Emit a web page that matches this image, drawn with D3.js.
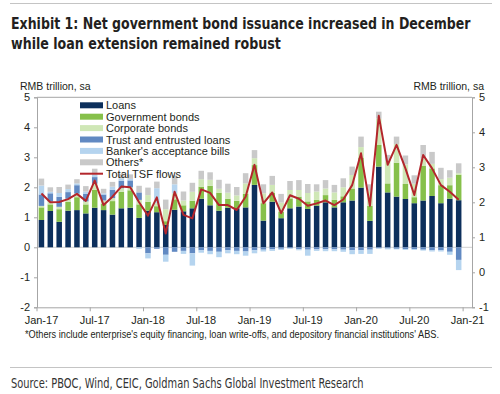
<!DOCTYPE html>
<html>
<head>
<meta charset="utf-8">
<script src="https://cdn.jsdelivr.net/npm/d3@7"></script>
<style>
  body { margin: 0; background: #fff; }
  svg { display: block; font-family: "Liberation Sans", Arial, sans-serif; }
</style>
</head>
<body>
<script>
// months on the x axis (the last one, Jan-21, only carries a label)
const MONTHS = [
  'Jan-17','Feb-17','Mar-17','Apr-17','May-17','Jun-17','Jul-17','Aug-17','Sep-17','Oct-17','Nov-17','Dec-17',
  'Jan-18','Feb-18','Mar-18','Apr-18','May-18','Jun-18','Jul-18','Aug-18','Sep-18','Oct-18','Nov-18','Dec-18',
  'Jan-19','Feb-19','Mar-19','Apr-19','May-19','Jun-19','Jul-19','Aug-19','Sep-19','Oct-19','Nov-19','Dec-19',
  'Jan-20','Feb-20','Mar-20','Apr-20','May-20','Jun-20','Jul-20','Aug-20','Sep-20','Oct-20','Nov-20','Dec-20',
  'Jan-21'
]
const TICK_LABELS = ['Jan-17','Jul-17','Jan-18','Jul-18','Jan-19','Jul-19','Jan-20','Jul-20','Jan-21']
const LEFT_TICKS = [-2, -1, 0, 1, 2, 3, 4, 5]
const RIGHT_TICKS = [-1, 0, 1, 2, 3, 4, 5]

// series, RMB trillion, sa
const LOANS = [
  0.91,1.21,0.85,1.22,1.24,1.13,1.32,1.24,1.09,1.30,1.32,0.98,
  1.22,1.17,0.75,1.25,1.20,1.30,1.62,1.40,1.22,1.32,1.30,1.33,
  2.08,0.89,1.52,0.97,1.30,1.36,1.28,1.39,1.50,1.33,1.50,1.56,
  1.99,0.88,2.69,1.83,1.69,1.61,1.47,1.56,1.71,1.47,1.62,1.57
]
const GOV_BONDS = [
  0.42,0.22,0.42,0.30,0.43,0.30,0.60,0.22,0.45,0.55,0.58,0.45,
  0.30,0.20,0.12,0.35,0.20,0.25,0.40,0.65,0.60,0.30,0.25,0.45,
  0.66,0.58,0.30,0.22,0.33,0.33,0.25,0.19,0.24,0.25,0.20,0.40,
  1.00,0.50,0.72,0.30,1.13,0.50,0.20,1.15,0.92,0.60,0.45,0.85
]
const CORP_BONDS = [
  0.05,0.10,0.08,0.10,0.12,0.10,0.20,0.10,0.10,0.12,0.10,0.15,
  0.22,0.10,0.40,0.20,0.16,0.30,0.25,0.20,0.13,0.20,0.18,0.35,
  0.23,0.33,0.26,0.30,0.28,0.22,0.28,0.28,0.22,0.25,0.30,0.45,
  0.35,0.50,0.88,0.75,0.62,0.65,0.45,0.25,0.15,0.20,0.25,0.05
]
const TRUST = [
  0.38,0.27,0.33,0.22,0.28,0.25,0.22,0.20,0.28,0.25,0.23,0.25,
  -0.20,-0.05,-0.25,-0.15,-0.12,-0.20,-0.10,-0.12,-0.15,-0.10,-0.12,-0.14,
  -0.10,-0.08,-0.07,-0.05,-0.03,-0.06,-0.08,-0.07,-0.07,-0.07,-0.08,-0.10,
  -0.10,-0.08,-0.03,-0.04,-0.05,-0.06,-0.06,-0.08,-0.10,-0.10,-0.15,-0.42
]
const BANKERS = [
  0.30,0.05,0.13,0.10,0.06,0.08,0.08,0.04,0.10,0.08,0.05,-0.05,
  -0.17,0.50,-0.23,0.30,-0.10,-0.41,-0.08,-0.11,-0.18,-0.10,-0.11,-0.14,
  -0.10,-0.06,-0.05,-0.04,-0.02,-0.04,-0.20,-0.05,-0.06,-0.06,-0.07,-0.13,
  -0.12,-0.14,-0.02,-0.03,-0.02,-0.03,-0.03,-0.03,-0.04,-0.04,-0.10,-0.34
]
const OTHERS = [
  0.23,0.15,0.20,0.15,0.14,0.18,0.20,0.15,0.16,0.15,0.15,0.22,
  0.25,0.22,0.32,0.30,0.30,0.30,0.28,0.25,0.30,0.30,0.28,0.34,
  0.27,0.30,0.30,0.29,0.30,0.33,0.30,0.24,0.28,0.25,0.30,0.28,
  0.35,0.22,0.23,0.20,0.25,0.30,0.28,0.45,0.40,0.38,0.25,0.33
]
// total TSF flows, right axis
const TSF = [
  2.25,2.00,2.01,2.09,2.24,2.04,2.62,1.92,2.16,2.45,2.43,2.00,
  1.62,2.14,1.11,2.30,1.64,1.54,2.37,2.27,1.92,1.92,1.78,2.16,
  3.07,1.97,2.28,1.69,2.20,2.10,1.90,1.97,2.05,1.92,2.08,2.49,
  3.40,1.90,4.47,3.07,3.64,2.97,2.21,3.35,2.97,2.49,2.30,2.07
]

const SERIES = [
  { key: 'loans', label: 'Loans', values: LOANS, color: '#0c2f5c' },
  { key: 'gov', label: 'Government bonds', values: GOV_BONDS, color: '#86c04a' },
  { key: 'corp', label: 'Corporate bonds', values: CORP_BONDS, color: '#cfe7b6' },
  { key: 'trust', label: 'Trust and entrusted loans', values: TRUST, color: '#6189c2' },
  { key: 'ba', label: "Banker's acceptance bills", values: BANKERS, color: '#b5d4ef' },
  { key: 'others', label: 'Others*', values: OTHERS, color: '#c9c9c9' },
]
const LINE_COLOR = '#b3262c'

const WIDTH = 500
const HEIGHT = 394
const PLOT = { left: 37, right: 472, top: 97.3, bottom: 307.3 }
const TEXT = '#231f20'
const AXIS = '#a6a6a6'
const NARROW = '"Liberation Sans Narrow", "DejaVu Sans Condensed", "Arial Narrow", sans-serif'

const svg = d3.select('body').append('svg')
  .attr('width', WIDTH)
  .attr('height', HEIGHT)

// squeeze a text horizontally so that it spans the given width
function fitText(x, y, width, str, attrs) {
  const g = svg.append('g')
  const t = g.append('text').attr('x', 0).attr('y', 0).text(str)
  Object.entries(attrs).forEach(([k, v]) => t.attr(k, v))
  const w = t.node().getComputedTextLength()
  g.attr('transform', `translate(${x},${y}) scale(${width / w},1)`)
  return t
}

// rules and title
svg.append('line').attr('x1', 10).attr('x2', 492).attr('y1', 3.5).attr('y2', 3.5)
  .attr('stroke', '#c4c4c4').attr('stroke-width', 1.2)
const titleAttrs = { 'font-family': NARROW, 'font-weight': 'bold', 'font-size': 16, fill: TEXT }
fitText(11, 29, 460, 'Exhibit 1: Net government bond issuance increased in December', titleAttrs)
fitText(11, 49, 270, 'while loan extension remained robust', titleAttrs)

// unit labels
svg.append('text').attr('x', 20).attr('y', 89.5).attr('font-size', 10.5).attr('fill', TEXT)
  .text('RMB trillion, sa')
svg.append('text').attr('x', 484).attr('y', 89.5).attr('font-size', 10.5).attr('fill', TEXT)
  .attr('text-anchor', 'end').text('RMB trillion, sa')

// scales
const x = d3.scaleBand().domain(MONTHS).range([PLOT.left, PLOT.right]).padding(0)
const yLeft = d3.scaleLinear().domain([-2, 5]).range([PLOT.bottom, PLOT.top])
const yRight = d3.scaleLinear().domain([-1, 5]).range([PLOT.bottom, PLOT.top])
const barW = x.bandwidth() * 0.62

// rows for the stack
const rows = MONTHS.slice(0, LOANS.length).map((m, i) => {
  const r = { month: m }
  SERIES.forEach(s => { r[s.key] = s.values[i] })
  return r
})
const stacked = d3.stack()
  .keys(SERIES.map(s => s.key))
  .offset(d3.stackOffsetDiverging)(rows)

// zero line
svg.append('line')
  .attr('x1', PLOT.left).attr('x2', PLOT.right)
  .attr('y1', yLeft(0)).attr('y2', yLeft(0))
  .attr('stroke', '#d0d0d0').attr('stroke-width', 1)

// bars
svg.append('g').selectAll('g')
  .data(stacked)
  .join('g')
  .attr('fill', (d, i) => SERIES[i].color)
  .selectAll('rect')
  .data(d => d)
  .join('rect')
  .attr('x', d => x(d.data.month) + (x.bandwidth() - barW) / 2)
  .attr('width', barW)
  .attr('y', d => yLeft(Math.max(d[0], d[1])))
  .attr('height', d => Math.abs(yLeft(d[0]) - yLeft(d[1])))

// top edge of the frame
svg.append('line')
  .attr('x1', PLOT.left).attr('x2', PLOT.right).attr('y1', PLOT.top).attr('y2', PLOT.top)
  .attr('stroke', AXIS).attr('stroke-width', 1)

// left axis
const gLeft = svg.append('g')
  .attr('transform', `translate(${PLOT.left},0)`)
  .call(d3.axisLeft(yLeft).tickValues(LEFT_TICKS).tickSize(3).tickPadding(4).tickFormat(d => String(d)))
// right axis
const gRight = svg.append('g')
  .attr('transform', `translate(${PLOT.right},0)`)
  .call(d3.axisRight(yRight).tickValues(RIGHT_TICKS).tickSize(3).tickPadding(4).tickFormat(d => String(d)))
// bottom axis: ticks at band edges, labels centred on the month
const gBottom = svg.append('g')
  .attr('transform', `translate(0,${PLOT.bottom})`)
  .call(d3.axisBottom(x).tickValues(TICK_LABELS).tickSize(0).tickPadding(9))
gBottom.selectAll('.tick').append('line')
  .attr('x1', -x.bandwidth() / 2).attr('x2', -x.bandwidth() / 2)
  .attr('y1', 0).attr('y2', 4)
  .attr('stroke', AXIS)

;[gLeft, gRight, gBottom].forEach(g => {
  g.select('.domain').attr('stroke', AXIS)
  g.selectAll('.tick line').attr('stroke', AXIS)
  g.selectAll('.tick text')
    .attr('font-size', 11)
    .attr('font-family', '"Liberation Sans", Arial, sans-serif')
    .attr('fill', TEXT)
})

// total TSF line
const line = d3.line()
  .x((d, i) => x(MONTHS[i]) + x.bandwidth() / 2)
  .y(d => yRight(d))
svg.append('path')
  .datum(TSF)
  .attr('fill', 'none')
  .attr('stroke', LINE_COLOR)
  .attr('stroke-width', 2)
  .attr('stroke-linejoin', 'round')
  .attr('d', line)

// legend
const legend = svg.append('g').attr('transform', 'translate(80,105.3)')
const items = SERIES.map(s => ({ label: s.label, color: s.color, type: 'bar' }))
  .concat([{ label: 'Total TSF flows', color: LINE_COLOR, type: 'line' }])
const li = legend.selectAll('g').data(items).join('g')
  .attr('transform', (d, i) => `translate(0,${i * 11.4})`)
li.filter(d => d.type === 'bar').append('rect')
  .attr('x', 0).attr('y', -3).attr('width', 23).attr('height', 6)
  .attr('fill', d => d.color)
li.filter(d => d.type === 'line').append('line')
  .attr('x1', 0).attr('x2', 23).attr('y1', 0).attr('y2', 0)
  .attr('stroke', d => d.color).attr('stroke-width', 2)
li.append('text')
  .attr('x', 26).attr('y', 4)
  .attr('font-size', 11)
  .attr('fill', TEXT)
  .text(d => d.label)

// footnote, rule, source
svg.append('text').attr('x', 25).attr('y', 338).attr('font-size', 10).attr('fill', TEXT)
  .attr('textLength', 414).attr('lengthAdjust', 'spacingAndGlyphs')
  .text("*Others include enterprise's equity financing, loan write-offs, and depository financial institutions' ABS.")
svg.append('line').attr('x1', 10).attr('x2', 492).attr('y1', 367.5).attr('y2', 367.5)
  .attr('stroke', '#c4c4c4').attr('stroke-width', 1.2)
fitText(11, 388, 353, 'Source: PBOC, Wind, CEIC, Goldman Sachs Global Investment Research',
  { 'font-family': NARROW, 'font-size': 14, fill: '#333' })
</script>
</body>
</html>
